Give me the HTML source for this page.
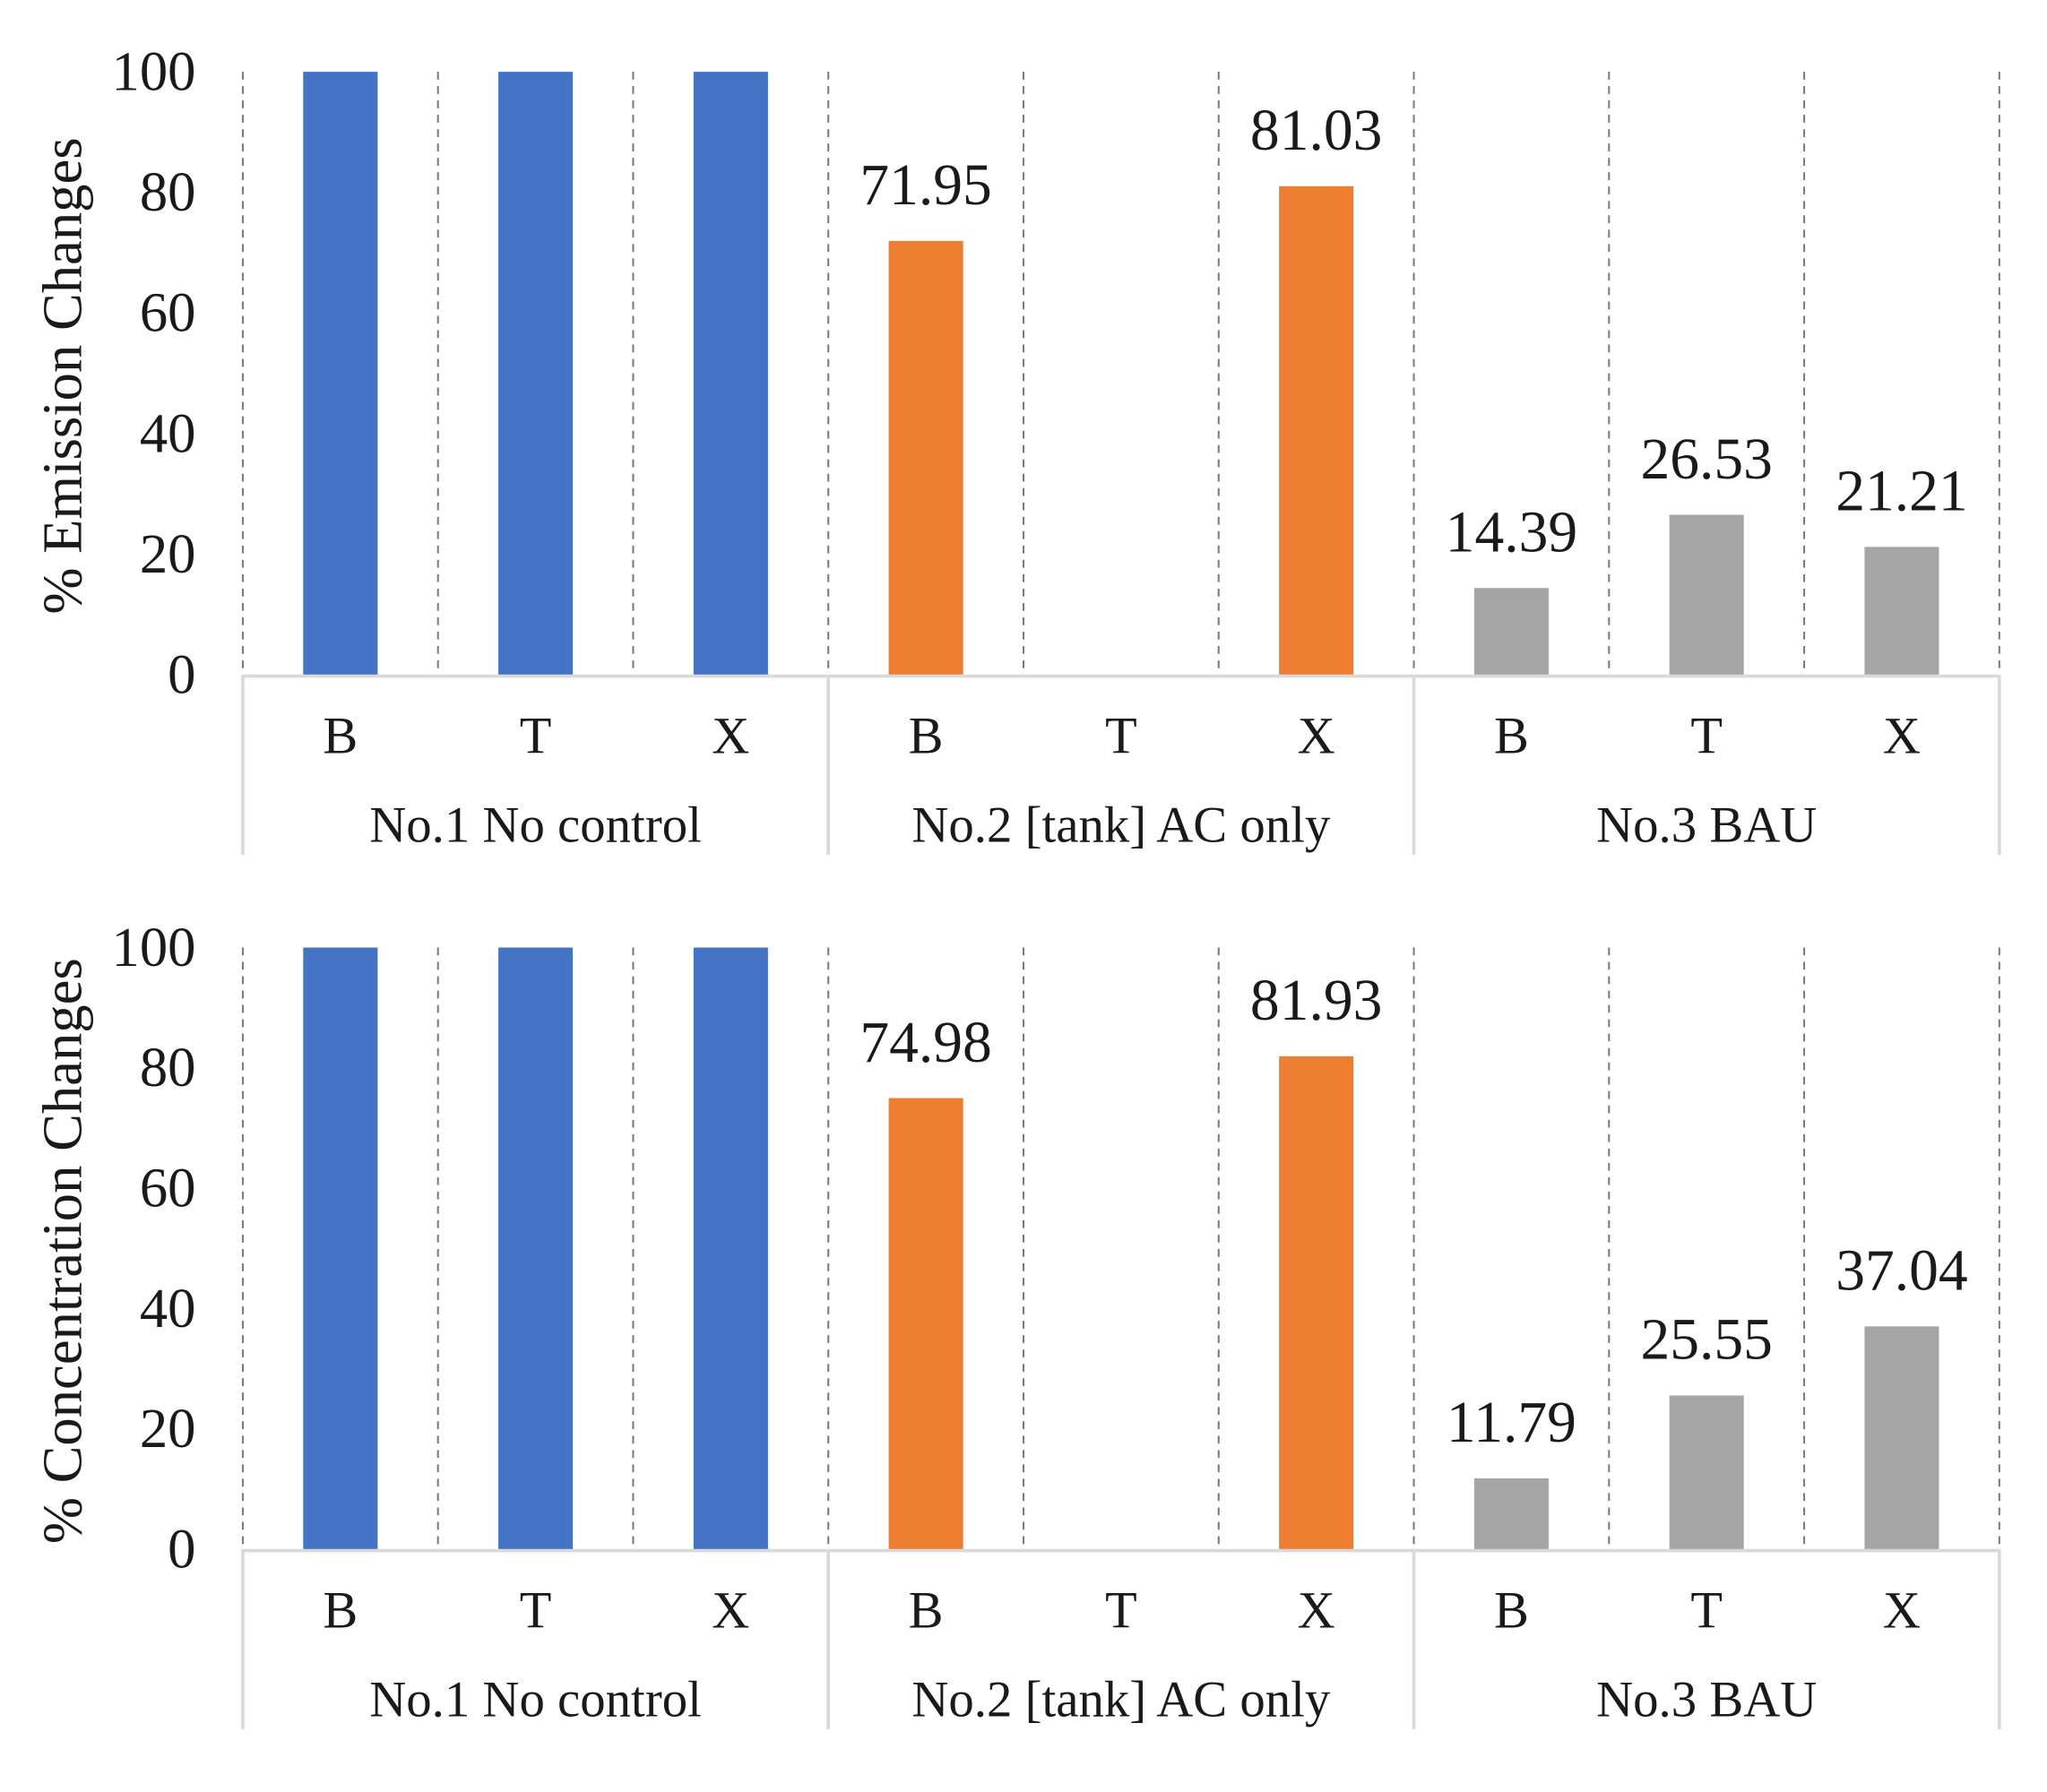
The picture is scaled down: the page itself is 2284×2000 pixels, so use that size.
<!DOCTYPE html>
<html><head><meta charset="utf-8"><style>
html,body{margin:0;padding:0;background:#fff;}
svg{display:block;}
text{font-family:"Liberation Serif",serif;fill:#1a1a1a;}
</style></head><body>
<svg id="chart" width="2284" height="2000" viewBox="0 0 1568 1373" preserveAspectRatio="none" xmlns="http://www.w3.org/2000/svg"></svg>
<script>
const groups = ["No.1 No control", "No.2 [tank] AC only", "No.3 BAU"];
const subCats = ["B", "T", "X"];
const emissionValues = [100, 100, 100, 71.95, 0, 81.03, 14.39, 26.53, 21.21];
const concentrationValues = [100, 100, 100, 74.98, 0, 81.93, 11.79, 25.55, 37.04];
const yTicks = [0, 20, 40, 60, 80, 100];
const titles = ["% Emission Changes", "% Concentration Changes"];
const colors = ["#4472C4", "#ED7D31", "#A5A5A5"];

const svg = document.getElementById('chart');
const NS = "http://www.w3.org/2000/svg";
function mk(tag, attrs, parent) {
  const e = document.createElementNS(NS, tag);
  for (const k in attrs) e.setAttribute(k, attrs[k]);
  (parent || svg).appendChild(e);
  return e;
}
const x0 = 186, step = 149.5, barW = 57;
function xScale(i) { return x0 + step * (i + 0.5); }

function panel(values, title, top, bottom, name) {
  const g = mk('g', {});
  
  
  const yScale = v => bottom - (v / 100) * (bottom - top);
  for (let i = 0; i <= 9; i++) {
    const l = mk('line', {x1: x0 + step * i, x2: x0 + step * i, y1: top, y2: bottom, stroke: '#7a7a7a', 'stroke-width': 1.4, 'stroke-dasharray': '6,5'}, g);
    
    
  }
  yTicks.forEach(t => {
    const tx = mk('text', {x: 150, y: yScale(t) + 14, 'text-anchor': 'end', 'font-size': 43}, g);
    tx.textContent = t;
    
    
  });
  const cy = (top + bottom) / 2 + 2;
  const yt = mk('text', {x: 0, y: 0, transform: `translate(62,${cy}) rotate(-90)`, 'text-anchor': 'middle', 'font-size': 43}, g);
  yt.textContent = title;
  
  
  values.forEach((v, i) => {
    const gi = Math.floor(i / 3);
    if (v > 0) {
      const r = mk('rect', {x: xScale(i) - barW / 2, y: yScale(v), width: barW, height: bottom - yScale(v), fill: colors[gi]}, g);
      
      
    }
    if (v > 0 && v < 100) {
      const lb = mk('text', {x: xScale(i), y: yScale(v) - 28, 'text-anchor': 'middle', 'font-size': 45}, g);
      lb.textContent = v.toFixed(2);
      
      
    }
  });
  const ax = mk('line', {x1: x0, x2: x0 + step * 9, y1: bottom + 1, y2: bottom + 1, stroke: '#d9d9d9', 'stroke-width': 2.5}, g);
  
  
  for (let k = 0; k <= 3; k++) {
    const s = mk('line', {x1: x0 + step * 3 * k, x2: x0 + step * 3 * k, y1: bottom, y2: bottom + 138, stroke: '#d9d9d9', 'stroke-width': 2.5}, g);
    
    
  }
  for (let i = 0; i < 9; i++) {
    const c = mk('text', {x: xScale(i), y: bottom + 60, 'text-anchor': 'middle', 'font-size': 40}, g);
    c.textContent = subCats[i % 3];
    
    
  }
  groups.forEach((gn, k) => {
    const t = mk('text', {x: xScale(3 * k + 1), y: bottom + 128, 'text-anchor': 'middle', 'font-size': 39}, g);
    t.textContent = gn;
    
    
  });
}
panel(emissionValues, titles[0], 55, 517, 'emission-panel');
panel(concentrationValues, titles[1], 726, 1187, 'concentration-panel');
</script>
</body></html>
